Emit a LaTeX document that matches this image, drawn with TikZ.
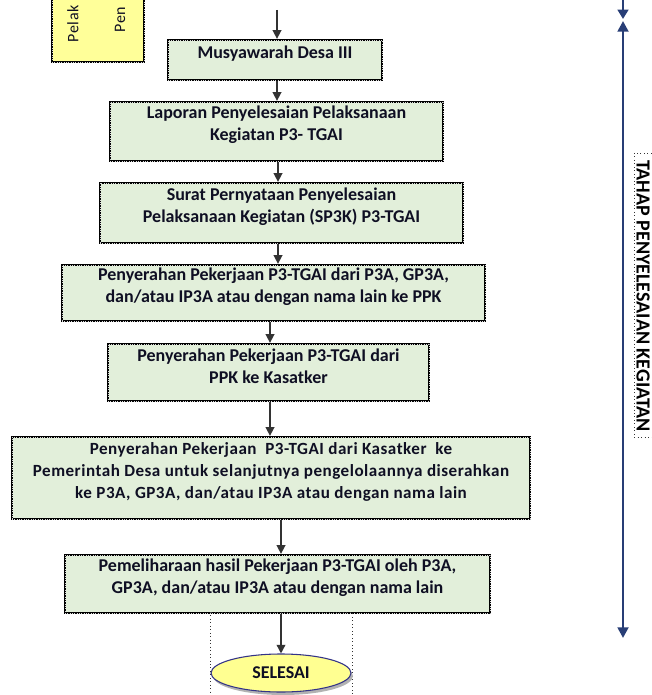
\documentclass[tikz,border=0pt]{standalone}
\usepackage{fontspec}
\setmainfont{Carlito}
\usetikzlibrary{arrows.meta,shapes.geometric,fit}

\definecolor{boxgreen}{RGB}{226,239,218}
\definecolor{notepad}{RGB}{255,255,153}
\definecolor{endfill}{RGB}{255,255,145}
\definecolor{inkdark}{RGB}{15,15,35}
\definecolor{stagenavy}{RGB}{40,62,118}

\tikzset{
  dotedge/.style={postaction={draw=white!85!black, line width=0.45pt, dash pattern=on 0.45pt off 1.3pt}},
  stepbox/.style={draw=black, line width=1.7pt, fill=boxgreen, inner sep=0pt,
    align=center, text=inkdark,
    font=\bfseries\fontsize{13.5}{16.5}\selectfont, dotedge},
  flowarrow/.style={draw=black!80, line width=1.1pt,
    -{Triangle[length=6.5pt,width=6.5pt]}},
  stagearrow/.style={draw=stagenavy, line width=2pt},
  notetext/.style={rotate=90, anchor=west, text=inkdark,
    font=\fontsize{12}{13}\selectfont\addfontfeature{LetterSpace=4}},
}

\begin{document}
\begin{tikzpicture}[x=0.75pt,y=-0.75pt]
\useasboundingbox (0,0) rectangle (651,695);

% yellow note box, continuing above the top edge
\node[draw=black, line width=1.7pt, fill=notepad, inner sep=0pt, dotedge,
      fit={(52,-20) (144,62)}] (note) {};
\node[notetext] (notea) at (73,47) {Pelak};
\node[notetext] (noteb) at (120,37) {Pen};

% flow boxes
\node[stepbox, fit={(168,40) (382,80)}] (b1) {Musyawarah Desa III};
\node[stepbox, fit={(110,102) (443,161)}] (b2)
  {Laporan Penyelesaian Pelaksanaan\\Kegiatan P3- TGAI};
\node[stepbox, fit={(100,183) (463,243)}] (b3)
  {Surat Pernyataan Penyelesaian\\Pelaksanaan Kegiatan (SP3K) P3-TGAI};
\node[stepbox, fit={(62,265) (485,321)}] (b4)
  {Penyerahan Pekerjaan P3-TGAI dari P3A, GP3A,\\dan/atau IP3A atau dengan nama lain ke PPK};
\node[stepbox, fit={(108,344) (429,401)}] (b5)
  {Penyerahan Pekerjaan P3-TGAI dari\\PPK ke Kasatker};
\node[stepbox, fit={(12,437) (530,519)},
      font=\bfseries\fontsize{12.8}{16.5}\selectfont\addfontfeature{LetterSpace=3}] (b6)
  {Penyerahan Pekerjaan\ \ P3-TGAI dari Kasatker\ \ ke\\
   Pemerintah Desa untuk selanjutnya pengelolaannya diserahkan\\
   ke P3A, GP3A, dan/atau IP3A atau dengan nama lain};
\node[stepbox, fit={(65,555) (490,613)}] (b7)
  {Pemeliharaan hasil Pekerjaan P3-TGAI oleh P3A,\\GP3A, dan/atau IP3A atau dengan nama lain};

% closing terminal inside its dotted frame
\draw[black!80, line width=0.6pt, dotted] (210,612) rectangle (352,705);
\fill[black!30] (283,676) ellipse [x radius=70, y radius=19];
\node[ellipse, draw=black!45!blue!60!gray, line width=0.8pt, fill=endfill,
      minimum width=105pt, minimum height=28.5pt, inner sep=0pt,
      text=inkdark, font=\bfseries\fontsize{13.5}{16}\selectfont] (done) at (281,673) {SELESAI};

% connectors
\coordinate (entry) at (277,10);
\coordinate (xa) at (277,0);
\coordinate (xb) at (278,0);
\coordinate (xc) at (270,0);
\coordinate (xd) at (281,0);
\draw[flowarrow] (entry) -- (b1.north -| entry);
\draw[flowarrow] (b1.south -| xa) -- (b2.north -| xa);
\draw[flowarrow] (b2.south -| xb) -- (b3.north -| xb);
\draw[flowarrow] (b3.south -| xb) -- (b4.north -| xb);
\draw[flowarrow] (b4.south -| xc) -- (b5.north -| xc);
\draw[flowarrow] (b5.south -| xc) -- (b6.north -| xc);
\draw[flowarrow] (b6.south -| xd) -- (b7.north -| xd);
\draw[flowarrow] (b7.south -| xd) -- (done.north);

% stage marker on the right
\coordinate (prevend) at (623,-5);
\coordinate (stagetop) at (623,21);
\coordinate (stagebot) at (623,638);
\draw[stagearrow, -{Triangle[length=7pt,width=8pt]}] (prevend) -- (623,19);
\draw[stagearrow, {Triangle[length=8pt,width=8pt]}-{Triangle[length=8pt,width=8pt]}]
  (stagetop) -- (stagebot);
\draw[black!80, line width=0.6pt, dotted] (634,153) rectangle (662,437);
\node[rotate=-90, inner sep=0pt, text=black,
      font=\bfseries\fontsize{15}{16}\selectfont] (stage) at (643,296)
  {TAHAP PENYELESAIAN KEGIATAN};
\end{tikzpicture}
\end{document}
